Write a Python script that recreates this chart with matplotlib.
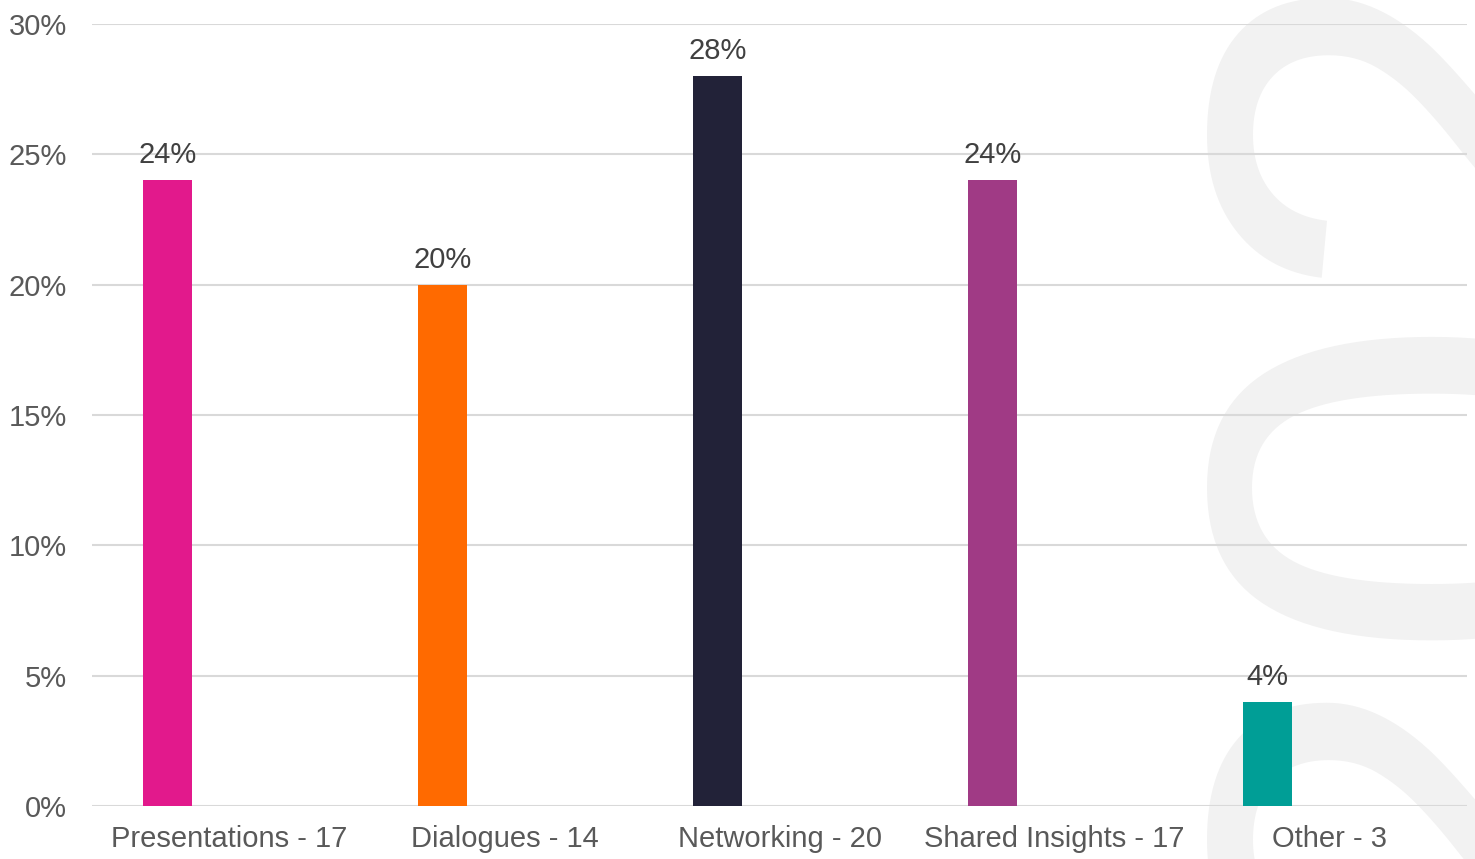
import numpy as np
import matplotlib
matplotlib.use("Agg")
import matplotlib.pyplot as plt

categories = ["Presentations - 17", "Dialogues - 14", "Networking - 20",
              "Shared Insights - 17", "Other - 3"]
shares = [24, 20, 28, 24, 4]
bar_colors = ["#E2198C", "#FF6A00", "#222238", "#A03A85", "#009E96"]
y_ticks = [0, 5, 10, 15, 20, 25, 30]

plt.rcParams["font.family"] = ["Liberation Sans", "DejaVu Sans"]

fig = plt.figure(figsize=(14.75, 8.59), dpi=100)
ax = fig.add_axes([92 / 1475, 1 - 806 / 859, (1467 - 92) / 1475, (806 - 24) / 859])
ax.patch.set_facecolor("none")

# faint year watermark behind the plot
fig.text(1620 / 1475, 1 - 985 / 859, "2024", rotation=90, rotation_mode="anchor",
         ha="left", va="baseline", fontsize=457, color="#f2f2f2", zorder=-5)

x = np.arange(len(categories))
ax.bar(x - 0.225, shares, width=0.178, color=bar_colors, zorder=3)

for xi, v in zip(x, shares):
    ax.annotate(f"{v}%", (xi - 0.225, v), xytext=(0, 8), textcoords="offset points",
                ha="center", va="bottom", fontsize=21, color="#404040")

ax.set_xlim(-0.5, len(categories) - 0.5)
ax.set_ylim(0, 30)
ax.set_yticks(y_ticks)
ax.set_yticklabels([f"{t}%" for t in y_ticks])
ax.set_xticks(x)
ax.set_xticklabels(categories)
ax.tick_params(axis="y", length=0, pad=18, labelsize=21, labelcolor="#595959")
ax.tick_params(axis="x", length=0, pad=14, labelsize=21, labelcolor="#595959")
ax.grid(axis="y", color="#d9d9d9", linewidth=1.5, zorder=1)
ax.set_axisbelow(True)
for s in ax.spines.values():
    s.set_visible(False)

fig.savefig("out.png", dpi=100)
